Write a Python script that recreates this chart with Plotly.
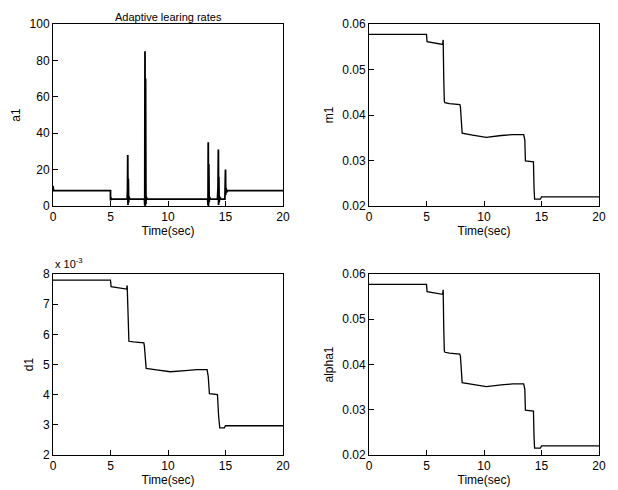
import plotly.graph_objects as go

# ---- data ----
t_a1 = [0, 0.02, 0.05, 5.0, 5.0, 5.05, 5.1, 6.45, 6.48, 6.5, 6.52, 6.55, 6.58, 6.6, 6.7,
        7.95, 7.98, 8.0, 8.02, 8.05, 8.08, 8.1, 8.2, 10.1, 10.2, 10.3,
        13.45, 13.48, 13.5, 13.52, 13.55, 13.58, 13.6, 13.7,
        14.3, 14.35, 14.38, 14.4, 14.42, 14.45, 14.5, 14.6,
        14.95, 15.0, 15.02, 15.05, 15.1, 15.2, 20]
a1 = [11, 8.5, 8.5, 8.5, 3, 4.5, 3.8, 3.8, 9, 28, 0.5, 15, 2, 5, 3.8,
      3.8, 0.5, 85, 0, 70, 1, 5, 3.8, 3.8, 4.2, 3.8,
      3.8, 0.5, 35, 0, 23, 2, 5, 3.8,
      3.8, 10, 31, 0.5, 16, 2, 5, 3.8,
      3.8, 20, 6, 10, 7.5, 8.5, 8.5]

t_m1 = [0, 5.0, 5.05, 5.5, 6.0, 6.4, 6.45, 6.47, 6.5, 6.55, 6.6, 7.0, 7.9, 7.95, 8.05, 8.1,
        9.0, 10.2, 11.5, 12.5, 13.45, 13.55, 13.6, 14.3, 14.35, 14.4, 14.9, 15.0, 20]
m1 = [0.0577, 0.0577, 0.0561, 0.0559, 0.0557, 0.0555, 0.0565, 0.0550, 0.0480, 0.0430, 0.0427,
      0.0425, 0.0423, 0.0418, 0.0365, 0.0360, 0.0356, 0.0351, 0.0355, 0.0357, 0.0357, 0.0345,
      0.0299, 0.0297, 0.0240, 0.0215, 0.0215, 0.0220, 0.0220]

t_d1 = [0, 5.0, 5.05, 5.5, 6.0, 6.4, 6.45, 6.47, 6.5, 6.55, 6.6, 7.0, 7.9, 7.95, 8.05, 8.1,
        9.0, 10.2, 11.5, 12.5, 13.4, 13.5, 13.6, 14.3, 14.4, 14.5, 14.9, 15.0, 20]
d1 = [7.8e-3, 7.8e-3, 7.58e-3, 7.56e-3, 7.53e-3, 7.5e-3, 7.62e-3, 7.4e-3, 6.6e-3, 5.8e-3, 5.77e-3,
      5.75e-3, 5.72e-3, 5.6e-3, 4.95e-3, 4.87e-3, 4.82e-3, 4.76e-3, 4.8e-3, 4.83e-3, 4.83e-3, 4.6e-3,
      4.03e-3, 4.0e-3, 3.3e-3, 2.9e-3, 2.9e-3, 2.97e-3, 2.97e-3]

t_alpha1 = t_m1
alpha1 = m1

x_ticks = [0, 5, 10, 15, 20]
a1_ticks = [0, 20, 40, 60, 80, 100]
m1_ticks = [0.02, 0.03, 0.04, 0.05, 0.06]
d1_ticks = [2e-3, 3e-3, 4e-3, 5e-3, 6e-3, 7e-3, 8e-3]
d1_ticktext = ["2", "3", "4", "5", "6", "7", "8"]

# ---- figure ----
OFF = 8  # page body margin
W, H = 610, 482
def px_x(p): return (p - OFF) / W
def px_y(p): return 1 - (p - OFF) / H

fig = go.Figure()
line = dict(color="black", width=1.3)
fig.add_trace(go.Scatter(x=t_a1, y=a1, mode="lines", line=dict(color="black", width=1.8), xaxis="x", yaxis="y"))
fig.add_trace(go.Scatter(x=t_m1, y=m1, mode="lines", line=line, xaxis="x2", yaxis="y2"))
fig.add_trace(go.Scatter(x=t_d1, y=d1, mode="lines", line=line, xaxis="x3", yaxis="y3"))
fig.add_trace(go.Scatter(x=t_alpha1, y=alpha1, mode="lines", line=line, xaxis="x4", yaxis="y4"))

fam = "Liberation Sans, Arial, sans-serif"
font = dict(family=fam, size=12, color="black")
common_ax = dict(showline=True, mirror=True, linecolor="black", linewidth=1, ticks="inside",
                 ticklen=5, tickcolor="black", showgrid=False, zeroline=False, tickfont=font,
                 automargin=False)

left = [px_x(53), px_x(283)]
right = [px_x(369), px_x(599)]
top = [px_y(206), px_y(24)]
bot = [px_y(455), px_y(274)]

xax = lambda dom, anchor: dict(common_ax, domain=dom, anchor=anchor, range=[0, 20], tickvals=x_ticks,
                               title=dict(text="Time(sec)", font=font, standoff=1))

fig.update_layout(
    width=W, height=H, margin=dict(l=0, r=0, t=0, b=0),
    paper_bgcolor="white", plot_bgcolor="white", showlegend=False, font=font,
    xaxis=xax(left, "y"),
    yaxis=dict(common_ax, domain=top, anchor="x", range=[0, 100], tickvals=a1_ticks,
               title=dict(text="a1", font=font, standoff=6)),
    xaxis2=xax(right, "y2"),
    yaxis2=dict(common_ax, domain=top, anchor="x2", range=[0.02, 0.06], tickvals=m1_ticks,
                tickformat=".2f", title=dict(text="m1", font=font, standoff=6)),
    xaxis3=xax(left, "y3"),
    yaxis3=dict(common_ax, domain=bot, anchor="x3", range=[2e-3, 8e-3], tickvals=d1_ticks,
                ticktext=d1_ticktext, title=dict(text="d1", font=font, standoff=6)),
    xaxis4=xax(right, "y4"),
    yaxis4=dict(common_ax, domain=bot, anchor="x4", range=[0.02, 0.06], tickvals=m1_ticks,
                tickformat=".2f", title=dict(text="alpha1", font=font, standoff=6)),
    annotations=[
        dict(text="Adaptive learing rates", x=(left[0] + left[1]) / 2, y=px_y(8.5), xref="paper",
             yref="paper", showarrow=False, font=dict(family=fam, size=11, color="black"),
             xanchor="center", yanchor="top"),
        dict(text="x 10<sup>-3</sup>", x=px_x(53), y=px_y(272), xref="paper", yref="paper",
             showarrow=False, font=dict(family=fam, size=11, color="black"),
             xanchor="left", yanchor="bottom"),
    ],
)

fig.write_html("out.html")
